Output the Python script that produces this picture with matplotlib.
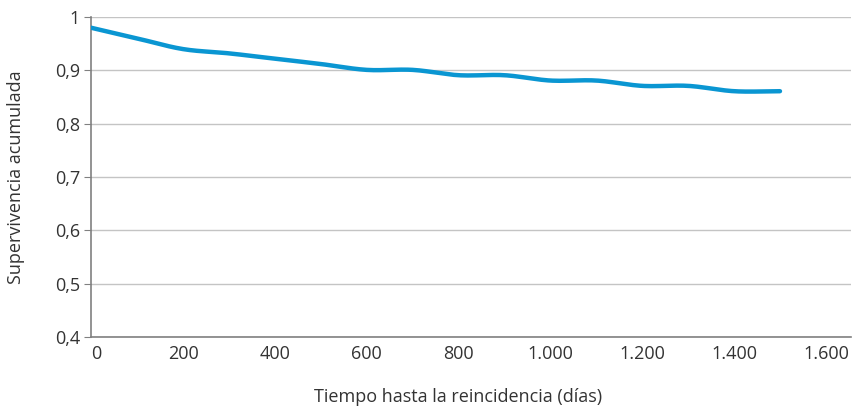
import numpy as np
import matplotlib as mpl
import matplotlib.pyplot as plt
from matplotlib.ticker import FuncFormatter

plt.rcParams['font.family'] = ['Open Sans', 'DejaVu Sans']

# days and cumulative survival
dias = [0, 100, 200, 300, 400, 500, 600, 700, 800, 900, 1000, 1100, 1200, 1300, 1400, 1500]
supervivencia = [0.98, 0.96, 0.94, 0.932, 0.922, 0.912, 0.901, 0.901, 0.891, 0.891, 0.881, 0.881, 0.871, 0.871, 0.861, 0.861]

xticks = [0, 200, 400, 600, 800, 1000, 1200, 1400, 1600]
yticks = [0.4, 0.5, 0.6, 0.7, 0.8, 0.9, 1.0]


def smooth( x, y, n=20 ):
    # catmull-rom through the points, like the smoothed line in a spreadsheet
    x = np.asarray( x, float )
    y = np.asarray( y, float )
    px = np.concatenate( ( [2*x[0]-x[1]], x, [2*x[-1]-x[-2]] ) )
    py = np.concatenate( ( [2*y[0]-y[1]], y, [2*y[-1]-y[-2]] ) )
    xs, ys = [ ], [ ]
    t = np.linspace( 0, 1, n, endpoint=False )
    for i in range( 1, len( px ) - 2 ):
        for p, out in ( ( px, xs ), ( py, ys ) ):
            p0, p1, p2, p3 = p[i-1], p[i], p[i+1], p[i+2]
            out.extend( 0.5*( 2*p1 + (-p0+p2)*t + (2*p0-5*p1+4*p2-p3)*t**2
                              + (-p0+3*p1-3*p2+p3)*t**3 ) )
    xs.append( x[-1] )
    ys.append( y[-1] )
    return np.array( xs ), np.array( ys )


fig = plt.figure( figsize=(8.52, 4.07), dpi=100 )
ax = fig.add_axes( [0.107, 0.172, 0.892, 0.786] )

sx, sy = smooth( dias, supervivencia )
ax.plot( sx, sy, color='#0a96d2', lw=3.2, solid_capstyle='round', zorder=3 )

ax.set_xlim( 0, 1655 )
ax.set_ylim( 0.4, 1.0 )
ax.set_xticks( xticks )
ax.set_yticks( yticks )
ax.xaxis.set_major_formatter( FuncFormatter( lambda v, p: '{:,.0f}'.format( v ).replace( ',', '.' ) ) )
ax.yaxis.set_major_formatter( FuncFormatter( lambda v, p: ( '%g' % round( v, 1 ) ).replace( '.', ',' ) ) )

ax.grid( axis='y', color='#c4c4c4', lw=1.0 )
ax.set_axisbelow( True )
for s in ( 'top', 'right' ):
    ax.spines[s].set_visible( False )
for s in ( 'left', 'bottom' ):
    ax.spines[s].set_color( '#808080' )
    ax.spines[s].set_linewidth( 1.2 )

ax.tick_params( axis='y', length=5, color='#808080', labelsize=13, labelcolor='#333333', pad=3 )
ax.tick_params( axis='x', length=0, labelsize=13, labelcolor='#333333', pad=6 )
# first x label sits a bit right of the axis in the original
ax.get_xticklabels()[0].set_ha( 'left' )

ax.set_xlabel( 'Tiempo hasta la reincidencia (días)', fontsize=13, color='#333333' )
ax.set_ylabel( 'Supervivencia acumulada', fontsize=13, color='#333333' )
ax.xaxis.set_label_coords( 0.483, -0.188 )
ax.yaxis.set_label_coords( -0.099, 0.5 )
ax.xaxis.label.set_va( 'center' )
ax.yaxis.label.set_va( 'center' )

fig.savefig( 'out.png', dpi=100 )
